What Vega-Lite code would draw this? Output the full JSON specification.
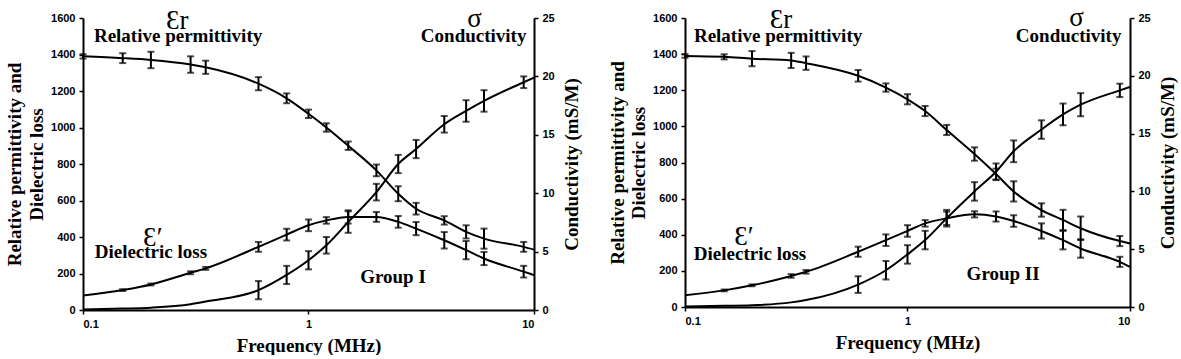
{
  "$schema": "https://vega.github.io/schema/vega-lite/v6.json",
  "background": "white",
  "padding": {"left": 5, "top": 4, "right": 0, "bottom": 0},
  "spacing": 26,
  "config": {
    "view": {"stroke": null},
    "axis": {"grid": false, "domainColor": "black", "domainWidth": 2, "tickColor": "black", "tickWidth": 1.5, "tickSize": 4, "labelFont": "Liberation Sans", "labelFontWeight": "bold", "labelFontSize": 11, "labelColor": "black", "titleFont": "Liberation Serif", "titleFontWeight": "bold", "titleFontSize": 19, "titleColor": "black"}
  },
  "datasets": {
    "d": [
      {"g": "I", "s": "perm", "f": 0.1, "v": 1390, "e": 12},
      {"g": "I", "s": "perm", "f": 0.15, "v": 1380, "e": 27},
      {"g": "I", "s": "perm", "f": 0.2, "v": 1370, "e": 45},
      {"g": "I", "s": "perm", "f": 0.3, "v": 1345, "e": 45},
      {"g": "I", "s": "perm", "f": 0.35, "v": 1330, "e": 36},
      {"g": "I", "s": "perm", "f": 0.6, "v": 1240, "e": 36},
      {"g": "I", "s": "perm", "f": 0.8, "v": 1160, "e": 27},
      {"g": "I", "s": "perm", "f": 1, "v": 1075, "e": 23},
      {"g": "I", "s": "perm", "f": 1.2, "v": 1000, "e": 23},
      {"g": "I", "s": "perm", "f": 1.5, "v": 900, "e": 23},
      {"g": "I", "s": "perm", "f": 2, "v": 765, "e": 32},
      {"g": "I", "s": "perm", "f": 2.5, "v": 637, "e": 41},
      {"g": "I", "s": "perm", "f": 3, "v": 555, "e": 32},
      {"g": "I", "s": "perm", "f": 4, "v": 491, "e": 23},
      {"g": "I", "s": "perm", "f": 5, "v": 428, "e": 36},
      {"g": "I", "s": "perm", "f": 6, "v": 391, "e": 55},
      {"g": "I", "s": "perm", "f": 9, "v": 346, "e": 27},
      {"g": "I", "s": "perm", "f": 10, "v": 331, "e": 0},
      {"g": "I", "s": "loss", "f": 0.1, "v": 79, "e": 0},
      {"g": "I", "s": "loss", "f": 0.15, "v": 109, "e": 5},
      {"g": "I", "s": "loss", "f": 0.2, "v": 140, "e": 5},
      {"g": "I", "s": "loss", "f": 0.3, "v": 204, "e": 8},
      {"g": "I", "s": "loss", "f": 0.35, "v": 228, "e": 8},
      {"g": "I", "s": "loss", "f": 0.6, "v": 346, "e": 27},
      {"g": "I", "s": "loss", "f": 0.8, "v": 413, "e": 32},
      {"g": "I", "s": "loss", "f": 1, "v": 464, "e": 32},
      {"g": "I", "s": "loss", "f": 1.2, "v": 491, "e": 18},
      {"g": "I", "s": "loss", "f": 1.5, "v": 510, "e": 36},
      {"g": "I", "s": "loss", "f": 2, "v": 510, "e": 27},
      {"g": "I", "s": "loss", "f": 2.5, "v": 483, "e": 32},
      {"g": "I", "s": "loss", "f": 3, "v": 446, "e": 36},
      {"g": "I", "s": "loss", "f": 4, "v": 382, "e": 45},
      {"g": "I", "s": "loss", "f": 5, "v": 328, "e": 50},
      {"g": "I", "s": "loss", "f": 6, "v": 282, "e": 36},
      {"g": "I", "s": "loss", "f": 9, "v": 210, "e": 32},
      {"g": "I", "s": "loss", "f": 10, "v": 191, "e": 0},
      {"g": "I", "s": "cond", "f": 0.1, "v": 0.05, "e": 0},
      {"g": "I", "s": "cond", "f": 0.15, "v": 0.12, "e": 0},
      {"g": "I", "s": "cond", "f": 0.2, "v": 0.2, "e": 0},
      {"g": "I", "s": "cond", "f": 0.3, "v": 0.49, "e": 0},
      {"g": "I", "s": "cond", "f": 0.35, "v": 0.72, "e": 0},
      {"g": "I", "s": "cond", "f": 0.6, "v": 1.7, "e": 0.78},
      {"g": "I", "s": "cond", "f": 0.8, "v": 3.0, "e": 0.78},
      {"g": "I", "s": "cond", "f": 1, "v": 4.26, "e": 0.78},
      {"g": "I", "s": "cond", "f": 1.2, "v": 5.54, "e": 0.71},
      {"g": "I", "s": "cond", "f": 1.5, "v": 7.53, "e": 0.92},
      {"g": "I", "s": "cond", "f": 2, "v": 10.09, "e": 0.71},
      {"g": "I", "s": "cond", "f": 2.5, "v": 12.5, "e": 0.78},
      {"g": "I", "s": "cond", "f": 3, "v": 13.78, "e": 0.78},
      {"g": "I", "s": "cond", "f": 4, "v": 15.9, "e": 0.71},
      {"g": "I", "s": "cond", "f": 5, "v": 17.04, "e": 0.92},
      {"g": "I", "s": "cond", "f": 6, "v": 17.9, "e": 0.92},
      {"g": "I", "s": "cond", "f": 9, "v": 19.5, "e": 0.5},
      {"g": "I", "s": "cond", "f": 10, "v": 19.9, "e": 0},
      {"g": "II", "s": "perm", "f": 0.1, "v": 1390, "e": 10},
      {"g": "II", "s": "perm", "f": 0.15, "v": 1385, "e": 14},
      {"g": "II", "s": "perm", "f": 0.2, "v": 1375, "e": 42},
      {"g": "II", "s": "perm", "f": 0.3, "v": 1365, "e": 42},
      {"g": "II", "s": "perm", "f": 0.35, "v": 1350, "e": 37},
      {"g": "II", "s": "perm", "f": 0.6, "v": 1280, "e": 32},
      {"g": "II", "s": "perm", "f": 0.8, "v": 1215, "e": 23},
      {"g": "II", "s": "perm", "f": 1, "v": 1150, "e": 28},
      {"g": "II", "s": "perm", "f": 1.2, "v": 1085, "e": 28},
      {"g": "II", "s": "perm", "f": 1.5, "v": 980, "e": 28},
      {"g": "II", "s": "perm", "f": 2, "v": 847, "e": 37},
      {"g": "II", "s": "perm", "f": 2.5, "v": 736, "e": 30},
      {"g": "II", "s": "perm", "f": 3, "v": 640, "e": 56},
      {"g": "II", "s": "perm", "f": 4, "v": 537, "e": 37},
      {"g": "II", "s": "perm", "f": 5, "v": 482, "e": 56},
      {"g": "II", "s": "perm", "f": 6, "v": 436, "e": 65},
      {"g": "II", "s": "perm", "f": 9, "v": 365, "e": 28},
      {"g": "II", "s": "perm", "f": 10, "v": 352, "e": 0},
      {"g": "II", "s": "loss", "f": 0.1, "v": 65, "e": 0},
      {"g": "II", "s": "loss", "f": 0.15, "v": 92, "e": 5},
      {"g": "II", "s": "loss", "f": 0.2, "v": 120, "e": 5},
      {"g": "II", "s": "loss", "f": 0.3, "v": 172, "e": 10},
      {"g": "II", "s": "loss", "f": 0.35, "v": 195, "e": 10},
      {"g": "II", "s": "loss", "f": 0.6, "v": 306, "e": 28},
      {"g": "II", "s": "loss", "f": 0.8, "v": 370, "e": 32},
      {"g": "II", "s": "loss", "f": 1, "v": 421, "e": 32},
      {"g": "II", "s": "loss", "f": 1.2, "v": 463, "e": 18},
      {"g": "II", "s": "loss", "f": 1.5, "v": 491, "e": 37},
      {"g": "II", "s": "loss", "f": 2, "v": 513, "e": 17},
      {"g": "II", "s": "loss", "f": 2.5, "v": 501, "e": 28},
      {"g": "II", "s": "loss", "f": 3, "v": 476, "e": 32},
      {"g": "II", "s": "loss", "f": 4, "v": 421, "e": 42},
      {"g": "II", "s": "loss", "f": 5, "v": 370, "e": 51},
      {"g": "II", "s": "loss", "f": 6, "v": 324, "e": 51},
      {"g": "II", "s": "loss", "f": 9, "v": 250, "e": 28},
      {"g": "II", "s": "loss", "f": 10, "v": 222, "e": 0},
      {"g": "II", "s": "cond", "f": 0.1, "v": 0.05, "e": 0},
      {"g": "II", "s": "cond", "f": 0.15, "v": 0.1, "e": 0},
      {"g": "II", "s": "cond", "f": 0.2, "v": 0.15, "e": 0},
      {"g": "II", "s": "cond", "f": 0.3, "v": 0.4, "e": 0},
      {"g": "II", "s": "cond", "f": 0.35, "v": 0.6, "e": 0},
      {"g": "II", "s": "cond", "f": 0.6, "v": 1.94, "e": 0.72},
      {"g": "II", "s": "cond", "f": 0.8, "v": 3.18, "e": 0.8},
      {"g": "II", "s": "cond", "f": 1, "v": 4.55, "e": 0.8},
      {"g": "II", "s": "cond", "f": 1.2, "v": 5.79, "e": 0.8},
      {"g": "II", "s": "cond", "f": 1.5, "v": 7.68, "e": 0.72},
      {"g": "II", "s": "cond", "f": 2, "v": 10.0, "e": 0.8},
      {"g": "II", "s": "cond", "f": 2.5, "v": 11.7, "e": 0.72},
      {"g": "II", "s": "cond", "f": 3, "v": 13.47, "e": 0.94},
      {"g": "II", "s": "cond", "f": 4, "v": 15.35, "e": 0.8},
      {"g": "II", "s": "cond", "f": 5, "v": 16.66, "e": 0.94},
      {"g": "II", "s": "cond", "f": 6, "v": 17.5, "e": 1.0},
      {"g": "II", "s": "cond", "f": 9, "v": 18.74, "e": 0.58},
      {"g": "II", "s": "cond", "f": 10, "v": 19.04, "e": 0}
    ],
    "a": [
      {"g": "I", "k": "sym", "t": "Ɛr", "f": 0.262, "v": 1585},
      {"g": "I", "k": "sym", "t": "σ", "f": 5.45, "v": 1595},
      {"g": "I", "k": "sym", "t": "Ɛ′", "f": 0.204, "v": 397},
      {"g": "I", "k": "lab", "t": "Relative permittivity", "f": 0.264, "v": 1500},
      {"g": "I", "k": "lab", "t": "Conductivity", "f": 5.4, "v": 1500},
      {"g": "I", "k": "lab", "t": "Dielectric loss", "f": 0.2, "v": 320},
      {"g": "I", "k": "lab", "t": "Group I", "f": 2.37, "v": 180},
      {"g": "II", "k": "sym", "t": "Ɛr", "f": 0.27, "v": 1590},
      {"g": "II", "k": "sym", "t": "σ", "f": 5.75, "v": 1600},
      {"g": "II", "k": "sym", "t": "Ɛ′", "f": 0.184, "v": 385},
      {"g": "II", "k": "lab", "t": "Relative permittivity", "f": 0.262, "v": 1500},
      {"g": "II", "k": "lab", "t": "Conductivity", "f": 5.3, "v": 1500},
      {"g": "II", "k": "lab", "t": "Dielectric loss", "f": 0.196, "v": 293},
      {"g": "II", "k": "lab", "t": "Group II", "f": 2.69, "v": 185}
    ]
  },
  "hconcat": [
    {
      "width": 451, "height": 292,
      "resolve": {"scale": {"y": "independent"}},
      "layer": [
        {
          "data": {"name": "d"},
          "transform": [{"filter": "datum.g == 'I' && datum.s != 'cond'"}],
          "encoding": {
            "x": {"field": "f", "type": "quantitative", "scale": {"type": "log", "domain": [0.1, 10]}, "axis": {"values": [0.1, 1, 10], "format": "~g", "title": "Frequency (MHz)", "titlePadding": 7, "labelPadding": 4}},
            "y": {"field": "v", "type": "quantitative", "scale": {"domain": [0, 1600], "nice": false}, "axis": {"values": [0, 200, 400, 600, 800, 1000, 1200, 1400, 1600], "format": "d", "title": ["Relative permittivity and", "Dielectric loss"], "titlePadding": 4, "titleLineHeight": 22, "labelPadding": 4}}
          },
          "layer": [
            {"mark": {"type": "line", "interpolate": "monotone", "color": "black", "strokeWidth": 2}, "encoding": {"detail": {"field": "s"}}},
            {"transform": [{"filter": "datum.e > 0"}], "mark": {"type": "errorbar", "color": "black", "thickness": 2, "ticks": {"size": 7, "thickness": 2, "color": "black"}}, "encoding": {"yError": {"field": "e"}, "detail": {"field": "s"}}},
            {"data": {"name": "a"}, "transform": [{"filter": "datum.g == 'I' && datum.k == 'lab'"}], "mark": {"type": "text", "font": "Liberation Serif", "fontWeight": "bold", "fontSize": 19, "color": "black"}, "encoding": {"x": {"field": "f", "type": "quantitative"}, "y": {"field": "v", "type": "quantitative"}, "text": {"field": "t"}}},
            {"data": {"name": "a"}, "transform": [{"filter": "datum.g == 'I' && datum.k == 'sym'"}], "mark": {"type": "text", "font": "Liberation Serif", "fontSize": 27, "color": "black"}, "encoding": {"x": {"field": "f", "type": "quantitative"}, "y": {"field": "v", "type": "quantitative"}, "text": {"field": "t"}}}
          ]
        },
        {
          "data": {"name": "d"},
          "transform": [{"filter": "datum.g == 'I' && datum.s == 'cond'"}],
          "encoding": {
            "x": {"field": "f", "type": "quantitative"},
            "y": {"field": "v", "type": "quantitative", "scale": {"domain": [0, 25], "nice": false}, "axis": {"orient": "right", "values": [0, 5, 10, 15, 20, 25], "title": "Conductivity (mS/M)", "titleAngle": 270, "titleBaseline": "top", "titlePadding": 8, "labelPadding": 4}}
          },
          "layer": [
            {"mark": {"type": "line", "interpolate": "monotone", "color": "black", "strokeWidth": 2}},
            {"transform": [{"filter": "datum.e > 0"}], "mark": {"type": "errorbar", "color": "black", "thickness": 2, "ticks": {"size": 7, "thickness": 2, "color": "black"}}, "encoding": {"yError": {"field": "e"}}}
          ]
        }
      ]
    },
    {
      "width": 445, "height": 289,
      "resolve": {"scale": {"y": "independent"}},
      "layer": [
        {
          "data": {"name": "d"},
          "transform": [{"filter": "datum.g == 'II' && datum.s != 'cond'"}],
          "encoding": {
            "x": {"field": "f", "type": "quantitative", "scale": {"type": "log", "domain": [0.1, 10]}, "axis": {"values": [0.1, 1, 10], "format": "~g", "title": "Frequency (MHz)", "titlePadding": 7, "labelPadding": 4}},
            "y": {"field": "v", "type": "quantitative", "scale": {"domain": [0, 1600], "nice": false}, "axis": {"values": [0, 200, 400, 600, 800, 1000, 1200, 1400, 1600], "format": "d", "title": ["Relative permittivity and", "Dielectric loss"], "titlePadding": 4, "titleLineHeight": 21, "labelPadding": 4}}
          },
          "layer": [
            {"mark": {"type": "line", "interpolate": "monotone", "color": "black", "strokeWidth": 2}, "encoding": {"detail": {"field": "s"}}},
            {"transform": [{"filter": "datum.e > 0"}], "mark": {"type": "errorbar", "color": "black", "thickness": 2, "ticks": {"size": 7, "thickness": 2, "color": "black"}}, "encoding": {"yError": {"field": "e"}, "detail": {"field": "s"}}},
            {"data": {"name": "a"}, "transform": [{"filter": "datum.g == 'II' && datum.k == 'lab'"}], "mark": {"type": "text", "font": "Liberation Serif", "fontWeight": "bold", "fontSize": 19, "color": "black"}, "encoding": {"x": {"field": "f", "type": "quantitative"}, "y": {"field": "v", "type": "quantitative"}, "text": {"field": "t"}}},
            {"data": {"name": "a"}, "transform": [{"filter": "datum.g == 'II' && datum.k == 'sym'"}], "mark": {"type": "text", "font": "Liberation Serif", "fontSize": 27, "color": "black"}, "encoding": {"x": {"field": "f", "type": "quantitative"}, "y": {"field": "v", "type": "quantitative"}, "text": {"field": "t"}}}
          ]
        },
        {
          "data": {"name": "d"},
          "transform": [{"filter": "datum.g == 'II' && datum.s == 'cond'"}],
          "encoding": {
            "x": {"field": "f", "type": "quantitative"},
            "y": {"field": "v", "type": "quantitative", "scale": {"domain": [0, 25], "nice": false}, "axis": {"orient": "right", "values": [0, 5, 10, 15, 20, 25], "title": "Conductivity (mS/M)", "titleAngle": 270, "titleBaseline": "top", "titlePadding": 8, "labelPadding": 4}}
          },
          "layer": [
            {"mark": {"type": "line", "interpolate": "monotone", "color": "black", "strokeWidth": 2}},
            {"transform": [{"filter": "datum.e > 0"}], "mark": {"type": "errorbar", "color": "black", "thickness": 2, "ticks": {"size": 7, "thickness": 2, "color": "black"}}, "encoding": {"yError": {"field": "e"}}}
          ]
        }
      ]
    }
  ]
}
